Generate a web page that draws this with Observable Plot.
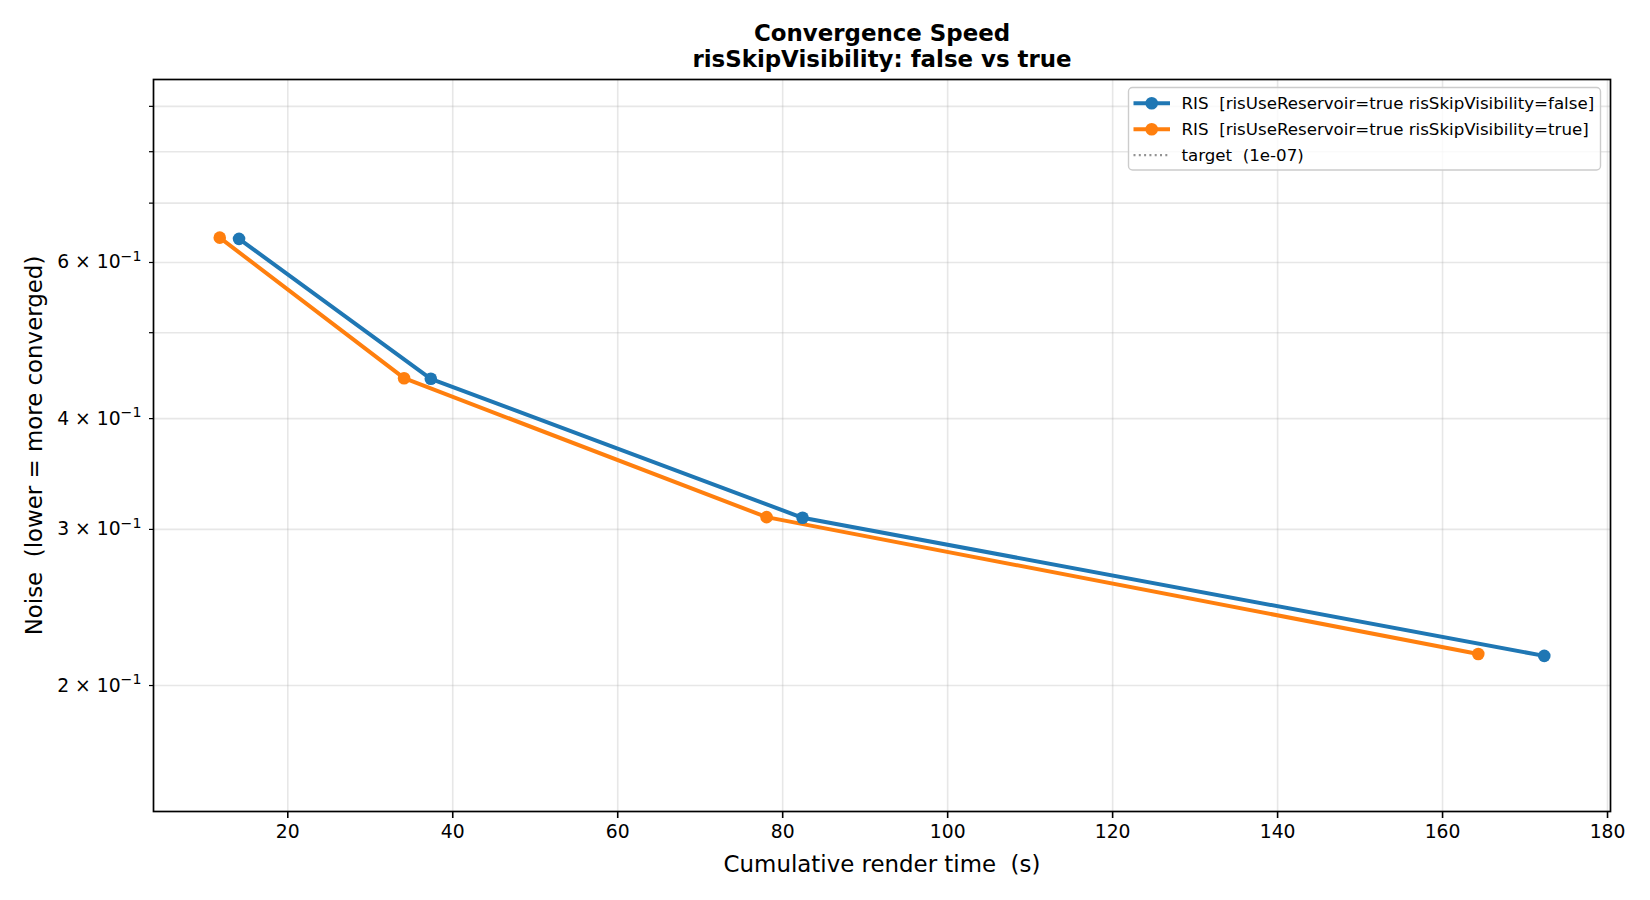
<!DOCTYPE html>
<html>
<head>
<meta charset="utf-8">
<script src="https://cdn.jsdelivr.net/npm/d3@7"></script>
<script src="https://cdn.jsdelivr.net/npm/@observablehq/plot@0.6"></script>
<style>
  html, body { margin: 0; padding: 0; background: #fff; }
  #chart svg text { white-space: pre; }
</style>
</head>
<body>
<div id="chart"></div>
<script>
// Series labels and colours (legend order = drawing order)
const seriesNames = [
  "RIS  [risUseReservoir=true risSkipVisibility=false]",
  "RIS  [risUseReservoir=true risSkipVisibility=true]"
];
const seriesColors = ["#1f77b4", "#ff7f0e"];

// Cumulative render time (s) and measured noise per checkpoint
const timeSkipFalse  = [14.09, 37.34, 82.41, 172.33];
const noiseSkipFalse = [0.638, 0.4436, 0.3092, 0.2160];
const timeSkipTrue   = [11.75, 34.10, 78.05, 164.33];
const noiseSkipTrue  = [0.640, 0.4443, 0.3097, 0.2171];

// Convergence target (lies far below the visible range)
const targetNoise = 1e-7;
const targetLabel = `target  (${targetNoise.toExponential(0).replace("e-", "e-0")})`;

// Axis ticks
const xTicks = [20, 40, 60, 80, 100, 120, 140, 160, 180];
const yTicks = [0.2, 0.3, 0.4, 0.5, 0.6, 0.7, 0.8, 0.9];
const yLabeled = [0.2, 0.3, 0.4, 0.6];

const xDomain = [3.72, 180.36];
const yDomain = [0.1442, 0.965];

const rows = [
  ...timeSkipFalse.map((t, i) => ({series: seriesNames[0], time: t, noise: noiseSkipFalse[i]})),
  ...timeSkipTrue.map((t, i) => ({series: seriesNames[1], time: t, noise: noiseSkipTrue[i]}))
];

// "m × 10^e" — the exponent part is turned into a raised tspan after rendering
function sciLabel(v) {
  if (!yLabeled.includes(v)) return "";
  const e = Math.floor(Math.log10(v) + 1e-9);
  const m = Math.round(v / Math.pow(10, e));
  return `${m} \u00D7 10^${String(e).replace("-", "\u2212")}`;
}

const FONT = "DejaVu Sans";
const gridStyle = {stroke: "#b0b0b0", strokeOpacity: 0.3, strokeWidth: 1.6};
const centered = {lineAnchor: "middle", textAnchor: "middle", fill: "#000"};

const chart = Plot.plot({
  width: 1650,
  height: 900,
  marginLeft: 153,
  marginRight: 40,
  marginTop: 79,
  marginBottom: 89,
  style: {fontFamily: FONT, fontSize: "18.75px", background: "#fff", color: "#000"},
  x: {domain: xDomain},
  y: {type: "log", domain: yDomain},
  color: {domain: seriesNames, range: seriesColors},
  marks: [
    Plot.gridY(yTicks, gridStyle),
    Plot.gridX(xTicks, gridStyle),
    Plot.axisX({ticks: xTicks, tickSize: 7, tickPadding: 6, strokeWidth: 1.6, fontSize: 18.75, label: null}),
    Plot.axisY({ticks: yTicks, tickSize: 4, tickPadding: 8, strokeWidth: 1.2, fontSize: 18.75,
                tickFormat: sciLabel, label: null}),
    Plot.line(rows, {x: "time", y: "noise", z: "series", stroke: "series", strokeWidth: 4}),
    Plot.dot(rows, {x: "time", y: "noise", fill: "series", r: 6.3}),
    Plot.frame({stroke: "#000", strokeWidth: 1.7}),
    // Title (two lines)
    Plot.text(["Convergence Speed"], {text: d => d, frameAnchor: "top", dy: -46,
      fontSize: 22.9, fontWeight: "bold", ...centered}),
    Plot.text(["risSkipVisibility: false vs true"], {text: d => d, frameAnchor: "top", dy: -20,
      fontSize: 22.9, fontWeight: "bold", ...centered}),
    // Axis titles
    Plot.text(["Cumulative render time  (s)"], {text: d => d, frameAnchor: "bottom", dy: 53,
      fontSize: 22.9, ...centered}),
    Plot.text(["Noise  (lower = more converged)"], {text: d => d, frameAnchor: "left", dx: -119,
      rotate: -90, fontSize: 22.9, ...centered})
  ]
});

document.getElementById("chart").appendChild(chart);

const svg = d3.select(chart);

// Render the exponent of the y tick labels as a superscript
svg.selectAll('g[aria-label="y-axis tick label"] text').each(function () {
  const t = d3.select(this);
  const s = t.text();
  if (!s.includes("^")) return;
  const [base, exp] = s.split("^");
  t.text(null);
  t.append("tspan").text(base);
  t.append("tspan").attr("font-size", 14.2).attr("dy", -7.8).text(exp);
});

// Legend box in the upper-right corner of the axes
const lg = svg.append("g")
  .attr("font-family", FONT).attr("font-size", 16.67).attr("text-anchor", "start");
const box = {x: 1128.5, y: 87.5, w: 472, h: 82.5};
lg.append("rect")
  .attr("x", box.x).attr("y", box.y).attr("width", box.w).attr("height", box.h)
  .attr("rx", 4).attr("fill", "#fff").attr("fill-opacity", 0.8)
  .attr("stroke", "#cccccc").attr("stroke-width", 1.4);

const legendItems = [
  {label: seriesNames[0], color: seriesColors[0], marker: true, dash: null, width: 4},
  {label: seriesNames[1], color: seriesColors[1], marker: true, dash: null, width: 4},
  {label: targetLabel, color: "#808080", marker: false, dash: "2,3.3", width: 2.2}
];
legendItems.forEach((item, i) => {
  const cy = 103.3 + i * 25.9;
  const g = lg.append("g");
  g.append("line")
    .attr("x1", 1133.5).attr("x2", 1170).attr("y1", cy).attr("y2", cy)
    .attr("stroke", item.color).attr("stroke-width", item.width)
    .attr("stroke-dasharray", item.dash)
    .attr("stroke-opacity", item.marker ? 1 : 0.85);
  if (item.marker) {
    g.append("circle").attr("cx", 1151.7).attr("cy", cy).attr("r", 6.3).attr("fill", item.color);
  }
  g.append("text")
    .attr("x", 1181.5).attr("y", cy).attr("dy", "0.36em")
    .attr("fill", "#000")
    .style("white-space", "pre")
    .text(item.label);
});
</script>
</body>
</html>
